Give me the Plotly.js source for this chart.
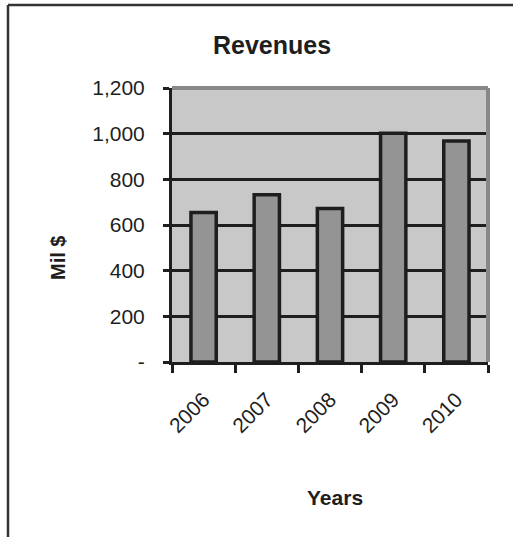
<!DOCTYPE html>
<html>
<head>
<meta charset="utf-8">
<script src="https://cdn.plot.ly/plotly-3.0.1.min.js"></script>
<style>html,body{margin:0;padding:0;background:#fff;}#chart{width:513px;height:537px;}</style>
</head>
<body>
<div id="chart"></div>
<script>
var years = ["2006", "2007", "2008", "2009", "2010"];
var revenues = [655, 732, 672, 1002, 968];
var yTickVals = [0, 200, 400, 600, 800, 1000, 1200];
var yTickText = ["-", "200", "400", "600", "800", "1,000", "1,200"];

var W = 513, H = 537;
var L = 172, R = 488, T = 88, B = 362;
function px(x) { return (x - L) / (R - L); }
function py(y) { return (B - y) / (B - T); }

var trace = {
  type: "bar",
  x: years,
  y: revenues,
  width: 0.4,
  marker: { color: "#949494", line: { color: "#1e1e1e", width: 3.5 } },
  hoverinfo: "x+y"
};

var layout = {
  width: W, height: H,
  margin: { l: L, r: W - R, t: T, b: H - B, pad: 0 },
  paper_bgcolor: "#ffffff",
  plot_bgcolor: "#c8c8c8",
  font: { family: "Arial, Liberation Sans, sans-serif", color: "#1e1e1e" },
  showlegend: false,
  title: {
    text: "<b>Revenues</b>",
    font: { size: 25, color: "#1e1e1e" },
    xref: "container", yref: "container",
    x: 272 / W, y: 1 - 45 / H, xanchor: "center", yanchor: "middle"
  },
  xaxis: {
    type: "category",
    showline: true, linecolor: "#1e1e1e", linewidth: 3,
    ticks: "outside", tickson: "boundaries", ticklen: 8, tickwidth: 3, tickcolor: "#1e1e1e",
    tickangle: -45,
    tickfont: { size: 21, color: "#1e1e1e" },
    ticklabelstandoff: 14,
    showgrid: false,
    automargin: false
  },
  yaxis: {
    range: [0, 1200],
    tickvals: yTickVals, ticktext: yTickText,
    showline: true, linecolor: "#1e1e1e", linewidth: 3,
    ticks: "outside", ticklen: 6, tickwidth: 3, tickcolor: "#1e1e1e",
    tickfont: { size: 21, color: "#1e1e1e" },
    ticklabelstandoff: 14,
    showgrid: true, gridcolor: "#1e1e1e", gridwidth: 3,
    zeroline: false,
    automargin: false,
    fixedrange: true
  },
  annotations: [
    { text: "<b>Years</b>", xref: "paper", yref: "paper", x: px(335), y: py(497),
      xanchor: "center", yanchor: "middle", showarrow: false,
      font: { size: 21, color: "#1e1e1e" } },
    { text: "<b>Mil $</b>", xref: "paper", yref: "paper", x: px(58), y: py(258),
      xanchor: "center", yanchor: "middle", showarrow: false, textangle: -90,
      font: { size: 20, color: "#1e1e1e" } }
  ],
  shapes: [
    { type: "line", xref: "paper", yref: "paper", x0: 0, x1: 1, y0: 1, y1: 1,
      line: { color: "#888888", width: 4 }, layer: "above" },
    { type: "line", xref: "paper", yref: "paper", x0: 1, x1: 1, y0: 0, y1: 1,
      line: { color: "#888888", width: 4 }, layer: "above" },
    { type: "line", xref: "paper", yref: "paper", x0: px(8), x1: px(W + 5), y0: py(5), y1: py(5),
      line: { color: "#333333", width: 2.5 }, layer: "above" },
    { type: "line", xref: "paper", yref: "paper", x0: px(8), x1: px(8), y0: py(5), y1: py(H + 5),
      line: { color: "#333333", width: 2.5 }, layer: "above" }
  ]
};

Plotly.newPlot("chart", [trace], layout, { displayModeBar: false, staticPlot: true });
</script>
</body>
</html>
